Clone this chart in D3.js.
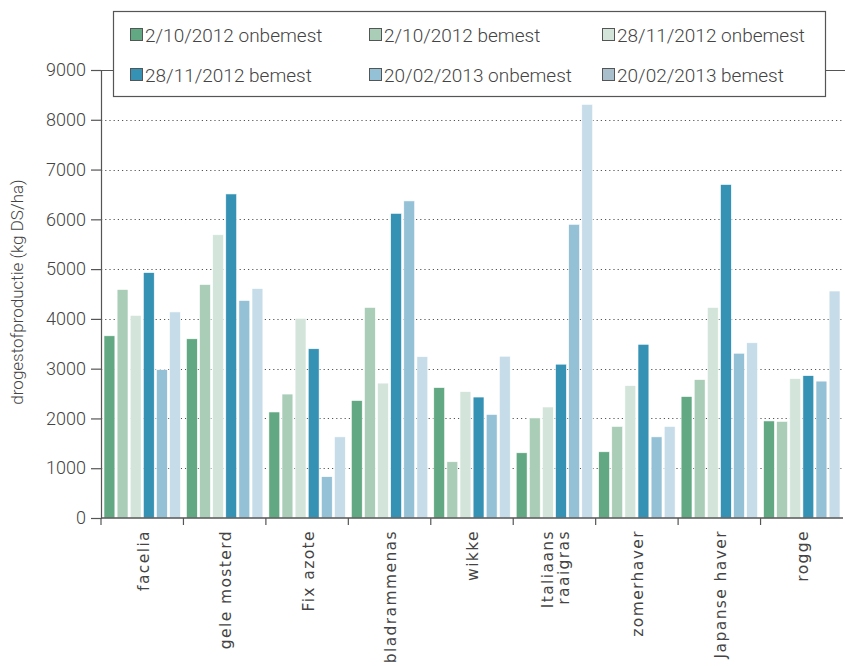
<!DOCTYPE html>
<html>
<head>
<meta charset="utf-8">
<script src="https://cdn.jsdelivr.net/npm/d3@7"></script>
<style>
  body { margin: 0; background: #fff; }
  svg { display: block; }
</style>
</head>
<body>
<svg id="chart" width="845" height="666"></svg>
<script>
// categories (x axis)
const categories = ['facelia', 'gele mosterd', 'Fix azote', 'bladrammenas', 'wikke',
  'Italiaans raaigras', 'zomerhaver', 'Japanse haver', 'rogge'];

// series names
const seriesNames = ['2/10/2012 onbemest', '2/10/2012 bemest', '28/11/2012 onbemest',
  '28/11/2012 bemest', '20/02/2013 onbemest', '20/02/2013 bemest'];

// values per series, in category order (kg DS/ha)
const okt2012Onbemest = [3660, 3600, 2130, 2360, 2620, 1310, 1330, 2440, 1950];
const okt2012Bemest   = [4590, 4690, 2490, 4230, 1130, 2010, 1840, 2780, 1940];
const nov2012Onbemest = [4070, 5690, 4010, 2710, 2540, 2230, 2660, 4230, 2800];
const nov2012Bemest   = [4930, 6510, 3400, 6120, 2430, 3090, 3490, 6700, 2860];
const feb2013Onbemest = [2980, 4370, 830, 6370, 2080, 5900, 1630, 3310, 2750];
const feb2013Bemest   = [4140, 4610, 1630, 3240, 3250, 8310, 1840, 3520, 4560];

const yTicks = [0, 1000, 2000, 3000, 4000, 5000, 6000, 7000, 8000, 9000];

const seriesValues = [okt2012Onbemest, okt2012Bemest, nov2012Onbemest,
  nov2012Bemest, feb2013Onbemest, feb2013Bemest];

// colours
const barColors = ['#62a882', '#aacdb8', '#d3e5da', '#3592b4', '#95c1d7', '#c6dde9'];
const swatchColors = ['#62a882', '#aacdb8', '#d3e5da', '#3592b4', '#95c1d7', '#a9bfcb'];

// layout
const svg = d3.select('#chart');
const width = +svg.attr('width');
const height = +svg.attr('height');
const margin = {t: 70, r: 2, b: 148, l: 101};
const w = width - margin.l - margin.r;
const h = height - margin.t - margin.b;

const g = svg.append('g')
    .attr('transform', `translate(${margin.l},${margin.t})`);

// scales
const x0 = d3.scaleBand()
    .domain(categories)
    .range([0, w])
    .padding(0);
const x1 = d3.scaleBand()
    .domain(d3.range(seriesNames.length))
    .range([3, x0.bandwidth() - 3])
    .paddingInner(0.17);
const y = d3.scaleLinear()
    .domain([0, 9000])
    .range([h, 0]);

// gridlines (dotted), top one solid
g.append('g')
    .selectAll('line')
    .data(yTicks.filter(d => d > 0 && d < 9000))
    .join('line')
    .attr('x1', 0)
    .attr('x2', w)
    .attr('y1', d => Math.round(y(d)) + 0.5)
    .attr('y2', d => Math.round(y(d)) + 0.5)
    .style('stroke', '#555')
    .style('stroke-width', 1)
    .style('stroke-dasharray', '1.2,3');

g.append('line')
    .attr('x1', 0)
    .attr('x2', width - margin.l)
    .attr('y1', Math.round(y(9000)) + 0.5)
    .attr('y2', Math.round(y(9000)) + 0.5)
    .style('stroke', '#555')
    .style('stroke-width', 1.2);

// bars
const rows = categories.map((c, i) => ({
    cat: c,
    vals: seriesValues.map((s, k) => ({k: k, v: s[i]}))
}));

g.append('g')
    .selectAll('g')
    .data(rows)
    .join('g')
    .attr('transform', d => `translate(${x0(d.cat)},0)`)
    .selectAll('rect')
    .data(d => d.vals)
    .join('rect')
    .attr('x', d => x1(d.k))
    .attr('width', x1.bandwidth())
    .attr('y', d => y(d.v))
    .attr('height', d => h - y(d.v))
    .style('fill', d => barColors[d.k])
    .style('stroke', '#fff')
    .style('stroke-width', 0.6);

// y axis
const yAxis = g.append('g')
    .call(d3.axisLeft(y).tickValues(yTicks).tickFormat(d3.format('d'))
        .tickSize(10).tickPadding(5));
yAxis.select('.domain').style('stroke', '#555').style('stroke-width', 1.2);
yAxis.selectAll('.tick line').style('stroke', '#555').style('stroke-width', 1.2);
yAxis.selectAll('.tick text')
    .style('font-family', 'Roboto, sans-serif')
    .style('font-weight', 300)
    .style('font-size', '18px')
    .style('fill', '#444');

// x axis: baseline and ticks at category boundaries
const xg = g.append('g').attr('transform', `translate(0,${h})`);
xg.append('line')
    .attr('x1', 0).attr('x2', w)
    .attr('y1', 0).attr('y2', 0)
    .style('stroke', '#555').style('stroke-width', 1.5);
xg.selectAll('.bnd')
    .data(categories)
    .join('line')
    .attr('class', 'bnd')
    .attr('x1', d => x0(d)).attr('x2', d => x0(d))
    .attr('y1', 0).attr('y2', 7)
    .style('stroke', '#555').style('stroke-width', 1.2);

// x labels, rotated
xg.selectAll('.lbl')
    .data(categories)
    .join('text')
    .attr('class', 'lbl')
    .attr('transform', d => `translate(${x0(d) + x0.bandwidth() / 2 + 1},12) rotate(-90)`)
    .style('text-anchor', 'end')
    .style('font-family', '"DejaVu Sans", sans-serif')
    .style('font-size', '15.5px')
    .style('letter-spacing', '1.4px')
    .style('fill', '#444')
    .each(function(d) {
        const words = d === 'Italiaans raaigras' ? ['Italiaans', 'raaigras'] : [d];
        const t = d3.select(this);
        words.forEach((wd, i) => {
            t.append('tspan')
                .attr('x', 0)
                .attr('y', (i - (words.length - 1) / 2) * 16)
                .attr('dy', '0.35em')
                .text(wd);
        });
    });

// y axis title
svg.append('text')
    .attr('transform', `translate(23,${margin.t + h / 2 - 2}) rotate(-90)`)
    .style('text-anchor', 'middle')
    .style('font-family', 'Roboto, sans-serif')
    .style('font-weight', 300)
    .style('font-size', '17px')
    .style('fill', '#444')
    .text('drogestofproductie (kg DS/ha)');

// legend
const legend = svg.append('g');
legend.append('rect')
    .attr('x', 113.5).attr('y', 11.5)
    .attr('width', 712).attr('height', 85)
    .style('fill', '#fff')
    .style('stroke', '#555')
    .style('stroke-width', 1.2);

const legX = [130, 369, 602];
const legY = [35, 75];
const items = legend.selectAll('.item')
    .data(seriesNames)
    .join('g')
    .attr('class', 'item')
    .attr('transform', (d, i) => `translate(${legX[i % 3]},${legY[Math.floor(i / 3)]})`);
items.append('rect')
    .attr('x', 0.5).attr('y', -6.5)
    .attr('width', 12).attr('height', 12)
    .style('fill', (d, i) => swatchColors[i])
    .style('stroke', '#555')
    .style('stroke-width', 1);
items.append('text')
    .attr('x', 15)
    .attr('y', 0)
    .attr('dy', '0.35em')
    .style('font-family', 'Roboto, sans-serif')
    .style('font-weight', 300)
    .style('font-size', '19px')
    .style('fill', '#444')
    .text(d => d);
</script>
</body>
</html>
